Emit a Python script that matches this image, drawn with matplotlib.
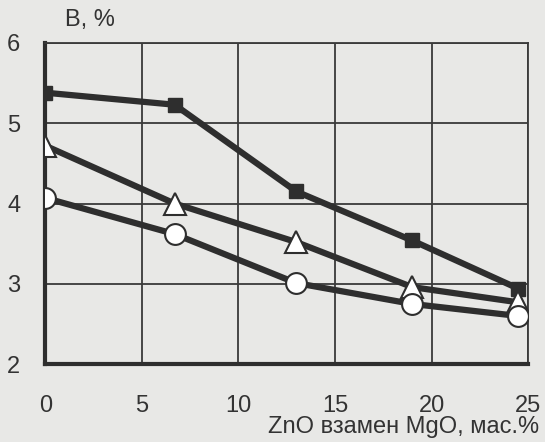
import matplotlib.pyplot as plt

plt.rcParams['font.family'] = ['Liberation Sans', 'DejaVu Sans']

# ZnO content, wt.%
zno = [0, 6.7, 13, 19, 24.5]
# three series
b_square = [5.38, 5.23, 4.15, 3.54, 2.94]
b_triangle = [4.72, 4.0, 3.52, 2.96, 2.77]
b_circle = [4.07, 3.62, 3.01, 2.75, 2.6]

xticks = [0, 5, 10, 15, 20, 25]
yticks = [2, 3, 4, 5, 6]

bg = '#e8e8e6'
ink = '#2e2e2e'

fig = plt.figure(figsize=(5.45, 4.42), dpi=100, facecolor=bg)
ax = fig.add_axes([0.083, 0.176, 0.886, 0.727], facecolor=bg)

ax.plot(zno, b_square, '-s', color=ink, lw=4.5, ms=10, mfc=ink, mec=ink, zorder=3)
ax.plot(zno, b_triangle, '-^', color=ink, lw=4.5, ms=16, mfc='white', mec=ink, mew=1.5, zorder=3)
ax.plot(zno, b_circle, '-o', color=ink, lw=4.5, ms=15, mfc='white', mec=ink, mew=1.5, zorder=3)

ax.set_xlim(0, 25)
ax.set_ylim(2, 6)
ax.set_xticks(xticks)
ax.set_yticks(yticks)
ax.grid(True, color='#3a3a3a', lw=1.3)
ax.tick_params(length=0, labelsize=17, colors='#333333')
ax.tick_params(axis='x', pad=22)
ax.tick_params(axis='y', pad=18)

for s in ['left', 'bottom']:
    ax.spines[s].set_linewidth(3)
    ax.spines[s].set_color(ink)
for s in ['top', 'right']:
    ax.spines[s].set_linewidth(1.3)
    ax.spines[s].set_color('#3a3a3a')

fig.text(0.12, 0.955, 'В, %', fontsize=17, color='#333333', va='center')
fig.text(0.74, 0.034, 'ZnO взамен MgO, мас.%', fontsize=17, color='#333333',
         ha='center', va='center')

fig.savefig('out.png', dpi=100, facecolor=bg)
